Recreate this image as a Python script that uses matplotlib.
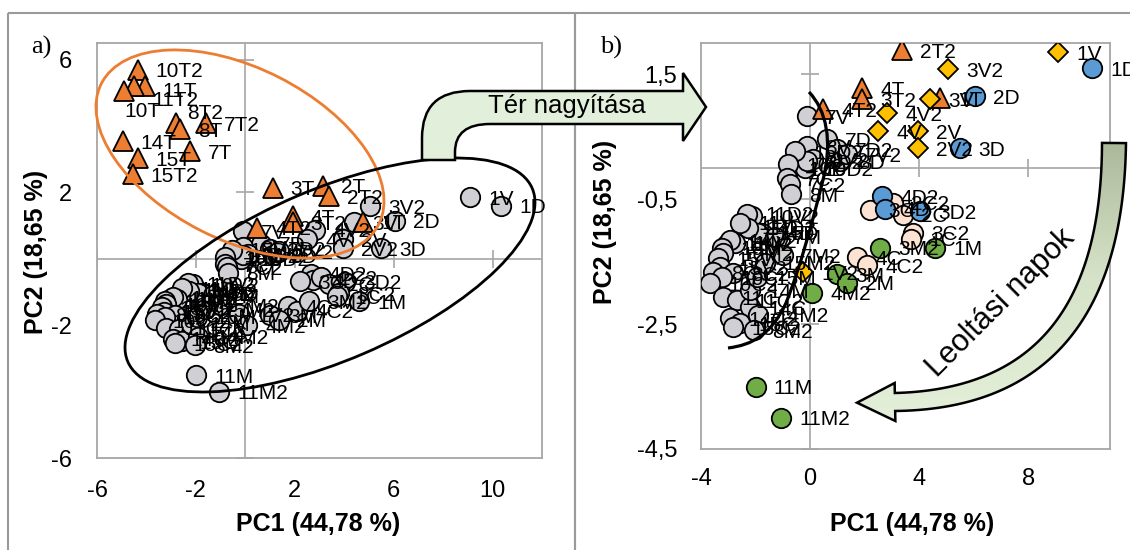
import numpy as np
import matplotlib
matplotlib.use('Agg')
import matplotlib.pyplot as plt
from matplotlib.patches import Ellipse, Rectangle, PathPatch, Polygon
from matplotlib.path import Path
from matplotlib.colors import LinearSegmentedColormap

plt.rcParams['font.family'] = ['Liberation Sans', 'DejaVu Sans']

W, H = 1130, 550

# PCA scores, one series per sample type
tri_names = ['10T2', '11T', '11T2', '10T', '8T2', '8T', '7T2', '14T', '15T', '7T', '15T2',
             '3T', '2T', '2T2', '4T', '3T2', '1T', '4T2']
tri_x = [-4.36, -4.07, -4.50, -4.90, -2.82, -2.66, -1.60, -4.96, -4.36, -2.25, -4.56,
         1.10, 3.14, 3.38, 1.91, 1.91, 4.77, 0.49]
tri_y = [5.70, 5.20, 5.20, 5.05, 4.08, 3.90, 4.08, 3.54, 3.03, 3.24, 2.55,
         2.14, 2.20, 1.88, 1.28, 1.10, 1.12, 0.94]

v_names = ['1V', '3V2', '3V', '4V2', '4V', '2V', '2V2', '1V2']
v_x = [9.10, 5.06, 4.40, 2.83, 2.50, 3.96, 3.96, -0.26]
v_y = [1.85, 1.58, 1.10, 0.88, 0.59, 0.59, 0.32, -1.67]

d_names = ['1D', '2D', '3D', '4D2', '4D', '3D2']
d_x = [10.35, 6.05, 5.50, 2.64, 2.75, 4.04]
d_y = [1.60, 1.15, 0.32, -0.45, -0.65, -0.69]

c_names = ['3C', '2C2', '2C', '3C2', '1C', '4C', '4C2']
c_x = [2.20, 3.05, 3.40, 3.78, 3.70, 1.72, 2.09]
c_y = [-0.67, -0.56, -0.75, -1.04, -1.13, -1.43, -1.56]

m_names = ['3M2', '1M', '3M', '2M', '4M2', '11M', '11M2']
m_x = [2.57, 4.60, 1.00, 1.36, 0.07, -2.00, -1.06]
m_y = [-1.28, -1.28, -1.70, -1.84, -2.00, -3.50, -4.00]

# later days (grey in the zoomed panel)
g_names = ['7V', '7D', '7D2', '8D', '7V2', '8V', '8V2', '10D', '10D2', '8D2', '15D2', '10V',
           '7C', '7C2', '8M',
           '10V2', '11D', '11D2', '15D', '14D', '14D2', '11V', '11V2', '14V', '14V2',
           '10M', '10M2', '15V', '15V2', '8C', '8C2', '10C', '10C2', '11C', '11C2',
           '14C', '14C2', '15C', '15C2', '14M', '15M', '15M2', '14M2', '8M2', '7M', '7M2']
g_x = [-0.11, 0.62, 0.99, 1.10, 1.36, -0.11, 0.11, -0.73, -0.18, -0.11, -0.55, -0.81,
       -0.84, -0.73, -0.70,
       -2.13, -2.46, -2.31, -1.76, -1.91, -2.28, -2.57, -3.05, -2.75, -2.94,
       -3.23, -3.19, -3.38, -3.30, -3.56, -2.83, -3.23, -3.67, -3.19, -2.68,
       -2.20, -2.94, -2.57, -2.83, -2.20, -1.94, -1.65, -1.90, -2.05, -1.30, -1.00]
g_y = [0.83, 0.46, 0.30, 0.11, 0.22, 0.35, 0.14, 0.00, 0.00, 0.11, 0.27, 0.06,
       -0.16, -0.26, -0.42,
       -0.77, -0.93, -0.73, -1.04, -1.04, -0.96, -0.88, -1.21, -1.20, -1.16,
       -1.28, -1.37, -1.45, -1.59, -1.67, -1.69, -1.75, -1.85, -2.07, -2.12,
       -2.23, -2.41, -2.49, -2.55, -1.96, -1.75, -1.52, -2.35, -2.60, -1.10, -1.40]

GRID = '#a6a6a6'
GREY = '#d0cfd4'
ORANGE = '#ed7d31'

fig = plt.figure(figsize=(W / 100, H / 100), dpi=100)


def px_axes(left, top, right, bottom):
    return fig.add_axes([left / W, 1 - bottom / H, (right - left) / W, (bottom - top) / H])


def fmt(v):
    return f'{v:g}'.replace('.', ',')


def setup(ax, xlim, ylim, xticks, yticks, xpad, ypad):
    ax.set_xlim(xlim)
    ax.set_ylim(ylim)
    ax.set_xticks(xticks)
    ax.set_yticks(yticks)
    ax.set_xticklabels([fmt(v) for v in xticks])
    ax.set_yticklabels([fmt(v) for v in yticks])
    ax.tick_params(length=0, labelsize=17)
    ax.tick_params(axis='x', pad=xpad)
    ax.tick_params(axis='y', pad=ypad)
    for s in ax.spines.values():
        s.set_color(GRID)
        s.set_linewidth(1.3)
    ax.axhline(0, color=GRID, lw=1.2, zorder=1)
    ax.axvline(0, color=GRID, lw=1.2, zorder=1)
    ax.plot(xticks, np.zeros(len(xticks)), ls='none', marker='|', ms=13, mew=1.2,
            color=GRID, zorder=1)
    ax.plot(np.zeros(len(yticks)), yticks, ls='none', marker='_', ms=13, mew=1.2,
            color=GRID, zorder=1)


def visible(ax, nms, xs, ys):
    # keep only the samples that fall inside the axis range
    x0, x1 = ax.get_xlim()
    y0, y1 = ax.get_ylim()
    keep = [(n, x, y) for n, x, y in zip(nms, xs, ys) if x0 <= x <= x1 and y0 <= y <= y1]
    return [list(c) for c in zip(*keep)] if keep else [[], [], []]


def points(ax, xs, ys, marker, color, ms):
    ax.plot(xs, ys, ls='none', marker=marker, ms=ms, mfc=color, mec='black',
            mew=1.3, zorder=3)


def labels(ax, nms, xs, ys, nudge=None):
    nudge = nudge or {}
    for n, x, y in zip(nms, xs, ys):
        ax.annotate(n, (x, y), xytext=nudge.get(n, (13, -1.5)), textcoords='offset points',
                    fontsize=15, ha='left', va='center', zorder=5)


# a) full score plot
ax_a = px_axes(97, 43, 542, 458)
setup(ax_a, (-6, 12), (-6, 6.5), [-6, -2, 2, 6, 10], [-6, -2, 2, 6], 16, 18)
rest_names = v_names + d_names + c_names + m_names + g_names
rest_x = v_x + d_x + c_x + m_x + g_x
rest_y = v_y + d_y + c_y + m_y + g_y
points(ax_a, rest_x, rest_y, 'o', GREY, 14)
points(ax_a, tri_x, tri_y, '^', ORANGE, 15)
labels(ax_a, rest_names, rest_x, rest_y)
labels(ax_a, tri_names, tri_x, tri_y,
       {'11T': (13, -4), '11T2': (13, -10), '10T': (0, -15), '8T2': (8, 7)})

# b) zoomed score plot coloured by day
ax_b = px_axes(701, 43, 1110, 449)
setup(ax_b, (-4, 11), (-4.5, 2), [-4, 0, 4, 8], [-4.5, -2.5, -0.5, 1.5], 14, 17)
series_b = [(g_names, g_x, g_y, 'o', GREY, 14),
            (c_names, c_x, c_y, 'o', '#fbe2d2', 14),
            (d_names, d_x, d_y, 'o', '#5b9bd5', 14),
            (m_names, m_x, m_y, 'o', '#70ad47', 14),
            (tri_names, tri_x, tri_y, '^', ORANGE, 15),
            (v_names, v_x, v_y, 'D', '#ffc000', 10)]
for nms, xs, ys, mk, col, ms in series_b:
    n_in, x_in, y_in = visible(ax_b, nms, xs, ys)
    points(ax_b, x_in, y_in, mk, col, ms)
    labels(ax_b, n_in, x_in, y_in)

# overlay in pixel units for frames, titles and drawn shapes
ov = fig.add_axes([0, 0, 1, 1], zorder=10)
ov.axis('off')
ov.patch.set_alpha(0)
ov.set_autoscale_on(False)

ov.add_patch(Rectangle((8, 13), 567, 560, fill=False, ec='#9a9a9a', lw=1.5, clip_on=False))
ov.add_patch(Rectangle((575, 13), 600, 560, fill=False, ec='#9a9a9a', lw=1.5, clip_on=False))

ov.text(41, 47, 'a)', fontsize=19, family='Liberation Serif', ha='center', va='center')
ov.text(611, 47, 'b)', fontsize=19, family='Liberation Serif', ha='center', va='center')
ov.text(318, 524, 'PC1 (44,78 %)', fontsize=18, weight='bold', ha='center', va='center')
ov.text(912, 524, 'PC1 (44,78 %)', fontsize=18, weight='bold', ha='center', va='center')
ov.text(36, 252, 'PC2 (18,65 %)', fontsize=18, weight='bold', rotation=90,
        ha='center', va='center')
ov.text(605, 222, 'PC2 (18,65 %)', fontsize=18, weight='bold', rotation=90,
        ha='center', va='center')

# groupings in panel a
ov.add_patch(Ellipse((240, 154), 311, 172, angle=26.9, fill=False, ec=ORANGE, lw=2))
ov.add_patch(Ellipse((330, 275), 440, 171, angle=-23.2, fill=False, ec='black', lw=2))

# bent arrow pointing to the zoomed panel
M, L, C3, C4 = Path.MOVETO, Path.LINETO, Path.CURVE3, Path.CURVE4
bent = Path([(422, 160), (422, 138), (422, 91), (470, 91), (683, 91), (683, 73), (706, 107),
             (683, 141), (683, 124), (490, 124), (455, 124), (455, 152), (455, 160), (422, 160)],
            [M, L, C3, C3, L, L, L, L, L, L, C3, C3, L, Path.CLOSEPOLY])
ov.add_patch(PathPatch(bent, fc='#e2efda', ec='black', lw=1.8, zorder=11))
ov.text(567, 106, 'Tér nagyítása', fontsize=18.5, ha='center', va='center', zorder=12)

# trend line through the later days in panel b
trend = Path([(809, 92), (826, 110), (833, 140), (823, 180), (813, 220), (800, 268),
              (786, 303), (771, 335), (752, 345), (728, 348)],
             [M, C4, C4, C4, C4, C4, C4, C4, C4, C4])
ov.add_patch(PathPatch(trend, fill=False, ec='black', lw=2.3, zorder=11))

# curved arrow for the inoculation days
t = np.linspace(0, 1, 80)[:, None]
p0, pc, p2 = np.array([1114, 143]), np.array([1112, 398]), np.array([895, 402])
mid = (1 - t) ** 2 * p0 + 2 * (1 - t) * t * pc + t ** 2 * p2
der = 2 * (1 - t) * (pc - p0) + 2 * t * (p2 - pc)
tang = der / np.linalg.norm(der, axis=1)[:, None]
nrm = np.column_stack([-tang[:, 1], tang[:, 0]])
half = np.linspace(12, 9, len(mid))[:, None]
side1, side2 = mid + nrm * half, mid - nrm * half
tip = p2 + tang[-1] * 38
outline = np.vstack([side1, p2 + nrm[-1] * 19, tip, p2 - nrm[-1] * 19, side2[::-1]])
arrow = Polygon(outline, closed=True, fc='none', ec='black', lw=1.8, zorder=12)
ov.add_patch(arrow)
shade = LinearSegmentedColormap.from_list('shade', ['#a9b698', '#d6e3c8', '#e4efd9'])
grad = np.linspace(0, 1, 256)[:, None]
img = ov.imshow(grad, extent=(840, 1130, 420, 135), cmap=shade, aspect='auto', zorder=11)
img.set_clip_path(arrow)
ov.text(1001, 303, 'Leoltási napok', fontsize=22, rotation=45, ha='center', va='center',
        zorder=12)

ov.set_xlim(0, W)
ov.set_ylim(H, 0)

fig.savefig('out.png', dpi=100)
